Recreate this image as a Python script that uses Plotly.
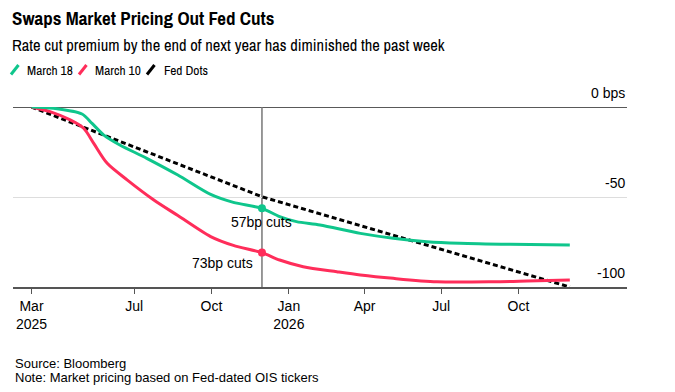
import plotly.graph_objects as go

# ---------------- data ----------------
march18_dates = ["2025-03-01", "2025-03-27", "2025-04-30", "2025-05-12", "2025-05-26",
                 "2025-06-14", "2025-07-16", "2025-08-22", "2025-09-30", "2025-10-27",
                 "2025-11-30", "2025-12-21", "2026-01-10", "2026-02-07", "2026-03-27",
                 "2026-05-05", "2026-06-14", "2026-07-23", "2026-09-21", "2026-12-01"]
march18_values = [0, -0.7, -3.9, -9.1, -15.6,
                  -21.1, -28.5, -37.8, -48.6, -53.0,
                  -56.3, -60.9, -63.7, -65.6, -70.2,
                  -72.9, -74.8, -75.7, -76.3, -76.7]

march10_dates = ["2025-03-01", "2025-03-23", "2025-04-16", "2025-05-02", "2025-05-14",
                 "2025-05-30", "2025-06-23", "2025-07-24", "2025-08-22", "2025-09-30",
                 "2025-10-27", "2025-11-30", "2025-12-21", "2026-01-18", "2026-02-27",
                 "2026-03-27", "2026-05-05", "2026-06-26", "2026-09-01", "2026-10-11",
                 "2026-12-01"]
march10_values = [0, -2.6, -7.2, -11.8, -20.2,
                  -31.3, -40.6, -51.5, -60.3, -72.0,
                  -76.9, -80.9, -85.0, -88.7, -91.5,
                  -93.3, -95.2, -97.1, -97.1, -96.7,
                  -96.1]

fed_dots_dates = ["2025-03-01", "2025-12-01", "2026-12-01"]
fed_dots_values = [0, -50, -100]

marker_date = "2025-11-30"
marker_labels = ["57bp cuts", "73bp cuts"]

x_tickvals = ["2025-03-01", "2025-07-01", "2025-10-01", "2026-01-01",
              "2026-04-01", "2026-07-01", "2026-10-01"]
x_ticktext = ["Mar<br>2025", "Jul", "Oct", "Jan<br>2026", "Apr", "Jul", "Oct"]
y_tickvals = [-100, -50, 0]
y_ticktext = ["-100", "-50", "0 bps"]

series_names = ["March 18", "March 10", "Fed Dots"]

# ---------------- styling ----------------
GREEN = "#0fc68c"
RED = "#ff2d5a"
BLACK = "#000000"
NARROW = "Archivo Narrow, Liberation Sans, sans-serif"
SANS = "Liberation Sans, Arial, sans-serif"

W, H = 675, 392
L, R, T, B = 13, 48, 107, 105
PW, PH = W - L - R, H - T - B


def px(x):
    return (x - L) / PW


def py(y):
    return (H - B - y) / PH


fig = go.Figure()

fig.add_trace(go.Scatter(x=fed_dots_dates, y=fed_dots_values, mode="lines",
                         line=dict(color=BLACK, width=3, dash="5px,3px"),
                         name=series_names[2], showlegend=False))
fig.add_trace(go.Scatter(x=march10_dates, y=march10_values, mode="lines",
                         line=dict(color=RED, width=3, shape="spline", smoothing=0.8),
                         name=series_names[1], showlegend=False))
fig.add_trace(go.Scatter(x=march18_dates, y=march18_values, mode="lines",
                         line=dict(color=GREEN, width=3, shape="spline", smoothing=0.8),
                         name=series_names[0], showlegend=False))

i18 = march18_dates.index(marker_date)
i10 = march10_dates.index(marker_date)
fig.add_trace(go.Scatter(x=[marker_date], y=[march18_values[i18]], mode="markers",
                         marker=dict(color=GREEN, size=8), showlegend=False))
fig.add_trace(go.Scatter(x=[marker_date], y=[march10_values[i10]], mode="markers",
                         marker=dict(color=RED, size=8), showlegend=False))

fig.add_shape(type="line", xref="x", yref="y", x0=marker_date, x1=marker_date,
              y0=0, y1=-100, line=dict(color="#777777", width=1.5), layer="below")
fig.add_shape(type="line", xref="paper", yref="y", x0=0, x1=1, y0=0, y1=0,
              line=dict(color="#222222", width=1.5), layer="below")

annotations = [
    dict(x=marker_date, y=march18_values[i18], text=marker_labels[0], xref="x", yref="y",
         showarrow=False, xanchor="center", yanchor="middle", yshift=-14,
         font=dict(family=SANS, size=14, color=BLACK)),
    dict(x=marker_date, y=march10_values[i10], text=marker_labels[1], xref="x", yref="y",
         showarrow=False, xanchor="right", yanchor="middle", yshift=-10, xshift=-7,
         font=dict(family=SANS, size=14, color=BLACK)),
    dict(x=px(10), y=py(18), xref="paper", yref="paper", showarrow=False,
         xanchor="left", yanchor="middle",
         text="<b>Swaps Market Pricing Out Fed Cuts</b>",
         font=dict(family=NARROW, size=19, color=BLACK)),
    dict(x=px(10), y=py(45), xref="paper", yref="paper", showarrow=False,
         xanchor="left", yanchor="middle",
         text="Rate cut premium by the end of next year has diminished the past week",
         font=dict(family=NARROW, size=16.5, color=BLACK)),
    dict(x=px(13), y=py(363), xref="paper", yref="paper", showarrow=False,
         xanchor="left", yanchor="middle", text="Source: Bloomberg",
         font=dict(family=SANS, size=13, color=BLACK)),
    dict(x=px(13), y=py(377), xref="paper", yref="paper", showarrow=False,
         xanchor="left", yanchor="middle",
         text="Note: Market pricing based on Fed-dated OIS tickers",
         font=dict(family=SANS, size=13, color=BLACK)),
]

for v, t in zip(y_tickvals, y_ticktext):
    annotations.append(dict(x=1, y=v, xref="paper", yref="y", text=t, showarrow=False,
                            xanchor="right", yanchor="middle", yshift=14,
                            font=dict(family=SANS, size=14, color=BLACK)))

legend_items = [(series_names[0], GREEN, 11, 25), (series_names[1], RED, 79, 93),
                (series_names[2], BLACK, 147, 162)]
for name, color, ix, tx in legend_items:
    fig.add_shape(type="line", xref="paper", yref="paper",
                  x0=px(ix), y0=py(74.5), x1=px(ix + 7.5), y1=py(65),
                  line=dict(color=color, width=3))
    annotations.append(dict(x=px(tx), y=py(70), xref="paper", yref="paper", showarrow=False,
                            xanchor="left", yanchor="middle", text=name,
                            font=dict(family=NARROW, size=13.4, color=BLACK)))

fig.update_layout(
    width=W, height=H,
    margin=dict(l=L, r=R, t=T, b=B, pad=0, autoexpand=False),
    paper_bgcolor="white", plot_bgcolor="white",
    showlegend=False,
    annotations=annotations,
    font=dict(family=SANS, size=14, color=BLACK),
    xaxis=dict(
        type="date", range=["2025-02-07", "2027-02-07"], automargin=False,
        tickmode="array", tickvals=x_tickvals, ticktext=x_ticktext,
        showgrid=False, zeroline=False,
        showline=True, linecolor="#555555", linewidth=1.5,
        ticks="outside", ticklen=5, tickcolor="#555555", tickwidth=1,
        tickfont=dict(family=SANS, size=14, color=BLACK),
    ),
    yaxis=dict(
        range=[-100, 0], side="right", automargin=False,
        tickmode="array", tickvals=y_tickvals, showticklabels=False,
        showgrid=True, gridcolor="#dddddd", gridwidth=1,
        zeroline=False, showline=False, ticks="",
    ),
)

fig.write_html("out.html", config={"displayModeBar": False},
               post_script="document.body.style.margin='0';")
